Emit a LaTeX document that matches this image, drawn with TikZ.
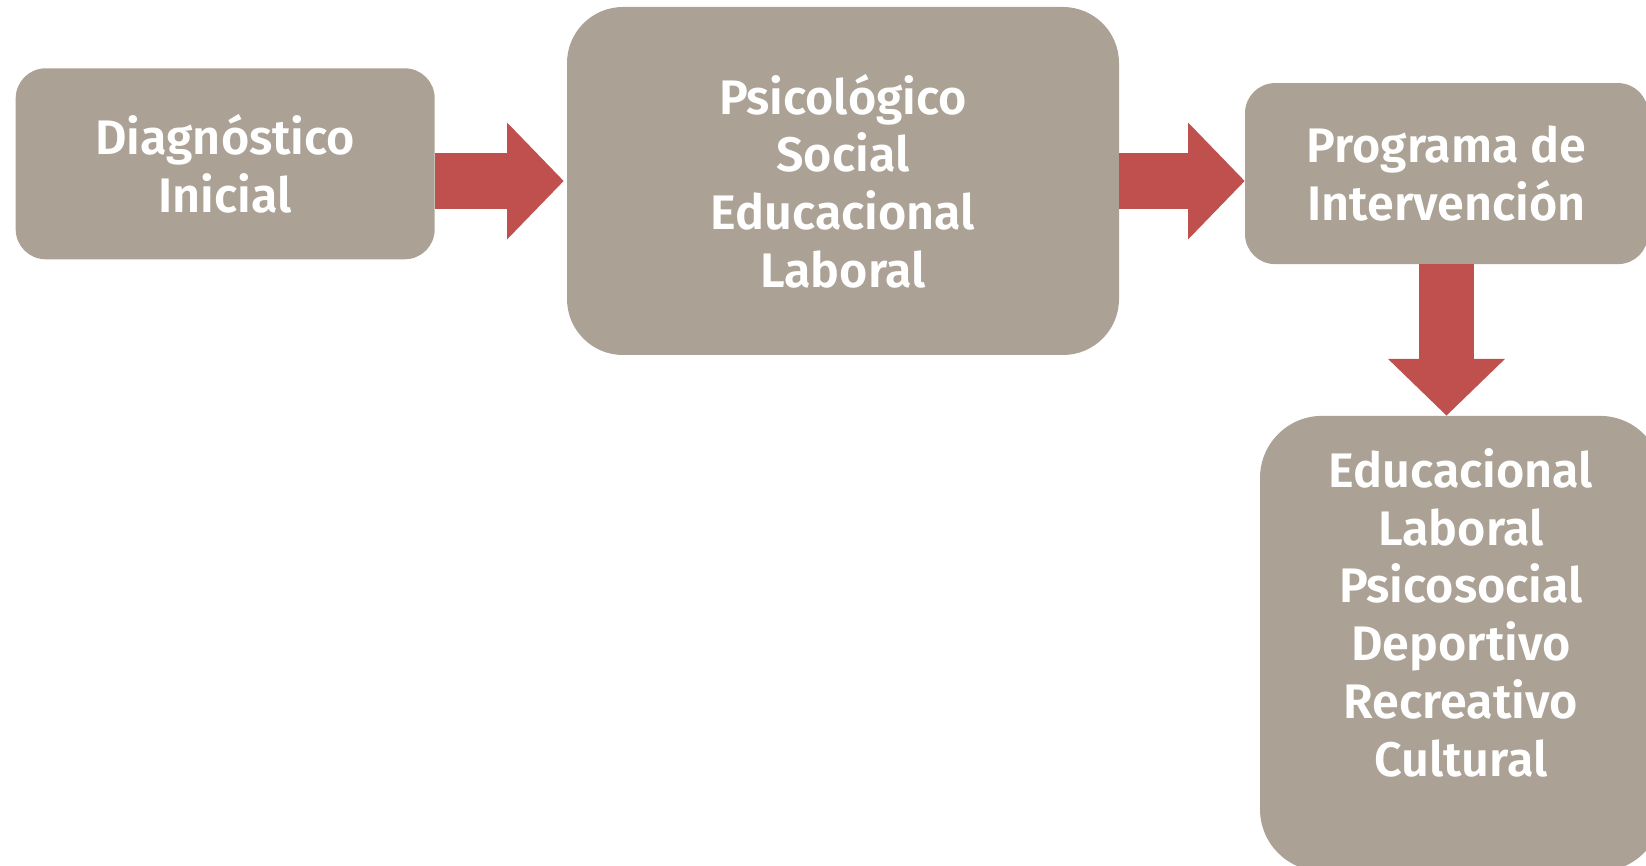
\documentclass[tikz,border=0pt]{standalone}
\usepackage{fontspec}
\setmainfont{Fira Sans}[BoldFont={Fira Sans SemiBold}]
\usetikzlibrary{arrows.meta}

\definecolor{cajagris}{RGB}{171,162,149}
\definecolor{flecharoja}{RGB}{192,80,77}

\tikzset{
  caja/.style={fill=cajagris, text=white, align=center, inner sep=0pt,
    font=\fontsize{48.5}{57.7}\selectfont\bfseries},
  flecha/.style={draw=flecharoja, line width=55.8pt,
    -{Triangle[length=56.7pt,width=113.4pt]}}
}

\begin{document}
\begin{tikzpicture}[x=1pt,y=-1pt]
\useasboundingbox (0,0) rectangle (1646,866);
\fill[white] (0,0) rectangle (1646,866);

\node[caja, rounded corners=30pt, minimum width=419pt, minimum height=191pt] (diag) at (225.2,163.8) {Diagnóstico\\Inicial};
\node[caja, rounded corners=56pt, minimum width=552pt, minimum height=348pt] (areas) at (843,181) {Psicológico\\Social\\Educacional\\Laboral};
\node[caja, rounded corners=30pt, minimum width=403pt, minimum height=181pt] (prog) at (1446.5,173.6) {Programa de\\Intervención};
\node[caja, rounded corners=62pt, minimum width=402pt, anchor=north, text height=360.1pt, text depth=95.2pt] (ejes) at (1461,415.7) {Educacional\\Laboral\\Psicosocial\\Deportivo\\Recreativo\\Cultural};

\draw[flecha, shorten >=3pt] (diag.east |- areas.west) -- (areas.west);
\draw[flecha] (areas.east) -- (prog.west |- areas.east);
\draw[flecha] (prog.south) -- (ejes.north -| prog.south);
\end{tikzpicture}
\end{document}
